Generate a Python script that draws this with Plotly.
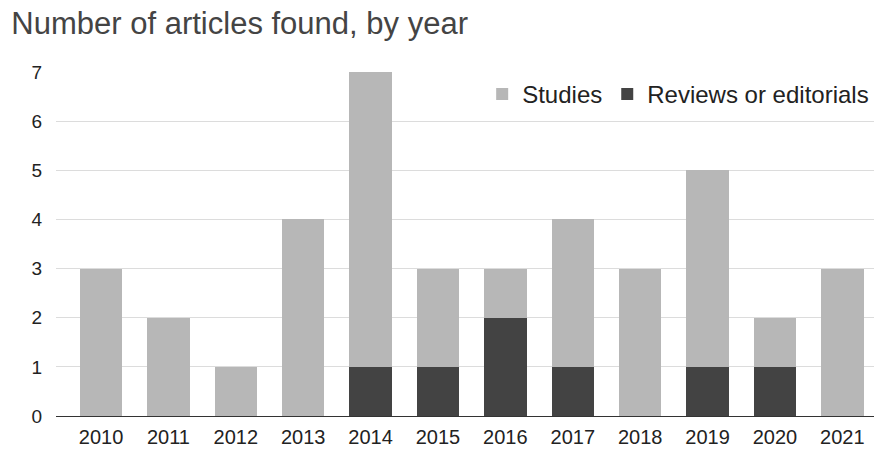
import plotly.graph_objects as go

years = ["2010", "2011", "2012", "2013", "2014", "2015", "2016", "2017", "2018", "2019", "2020", "2021"]
studies = [3, 2, 1, 4, 6, 2, 1, 3, 3, 4, 1, 3]
reviews = [0, 0, 0, 0, 1, 1, 2, 1, 0, 1, 1, 0]
y_ticks = [0, 1, 2, 3, 4, 5, 6, 7]

xpos = list(range(len(years)))

fig = go.Figure()
fig.add_trace(go.Bar(x=xpos, y=reviews, name="Reviews or editorials",
                     marker=dict(color="#434343", line=dict(width=0)), width=0.63))
fig.add_trace(go.Bar(x=xpos, y=studies, name="Studies",
                     marker=dict(color="#b7b7b7", line=dict(width=0)), width=0.63))

fig.update_layout(
    width=874, height=450,
    barmode="stack",
    paper_bgcolor="white", plot_bgcolor="white",
    font=dict(family="Liberation Sans, Arial, sans-serif", size=19, color="#222"),
    title=dict(text="Number of articles found, by year", x=0.013, xanchor="left",
               y=0.948, yanchor="middle",
               font=dict(size=31, color="#444")),
    margin=dict(l=56, r=0, t=72, b=34, autoexpand=False),
    showlegend=True,
    legend=dict(orientation="h", x=0.521, xanchor="left", y=0.935, yanchor="middle",
                traceorder="reversed", bgcolor="rgba(255,255,255,0)",
                font=dict(size=24, color="#222"), itemwidth=30),
    xaxis=dict(range=[-0.668, 11.47], tickvals=xpos, ticktext=years,
               showgrid=False, zeroline=False, showline=False, ticks="",
               ticklabelstandoff=7, tickfont=dict(size=20)),
    yaxis=dict(range=[0, 7], tickvals=y_ticks, showgrid=True, gridcolor="#dcdcdc",
               zeroline=True, zerolinecolor="#333", zerolinewidth=1,
               ticks="", ticklabelstandoff=13, fixedrange=True,
               tickfont=dict(size=19)),
    bargap=0.37,
)

fig.write_html("out.html")
